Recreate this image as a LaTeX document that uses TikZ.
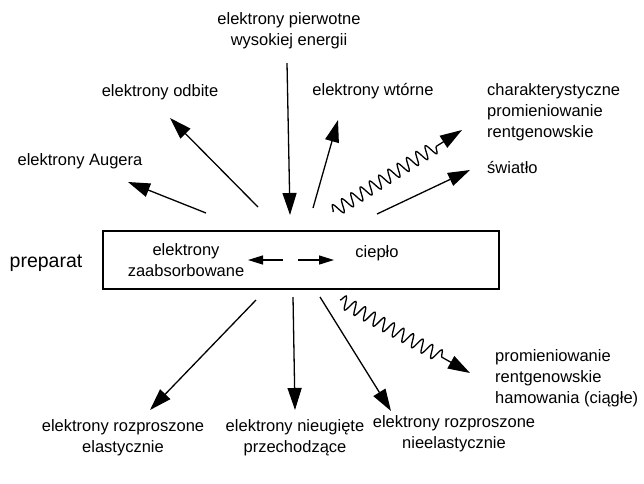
\documentclass[tikz,border=0pt]{standalone}
\usepackage{fontspec}
\setmainfont{Liberation Sans}
\usetikzlibrary{arrows.meta, positioning, decorations.pathmorphing}
\tikzset{
  lbl/.style={font=\fontsize{16.5}{21}\selectfont, align=center, inner sep=0pt},
  lblw/.style={lbl, align=left, anchor=west},
  ray/.style={-{Triangle[length=22pt, width=14pt]}, line width=1.3pt},
  photon/.style={ray, decorate,
                 decoration={snake, segment length=11pt, amplitude=6.5pt, post length=30pt}},
  heatarrow/.style={-{Triangle[length=15pt, width=9pt]}, line width=1.3pt},
}

\begin{document}
\begin{tikzpicture}[x=1pt, y=-1pt]
  \useasboundingbox (0,0) rectangle (644,483);

  % sample
  \node[draw, line width=1.3pt, minimum width=396pt, minimum height=58pt,
        inner sep=0pt] (sample) at (301,260) {};
  \node[lbl, font=\fontsize{19.5}{23}\selectfont] (preparat) at (46,263) {preparat};
  \node[lbl] (absorbed) at (186,260) {elektrony\\zaabsorbowane};
  \node[lbl] (heat) at (377,253) {ciepło};

  % labels
  \node[lbl] (primary) at (289,31) {elektrony pierwotne\\wysokiej energii};
  \node[lbl] (backsc) at (160,92) {elektrony odbite};
  \node[lbl] (second) at (373,91) {elektrony wtórne};
  \node[lbl] (auger) at (80,161) {elektrony Augera};
  \node[lblw] (charx) at (487,112) {charakterystyczne\\promieniowanie\\rentgenowskie};
  \node[lblw] (light) at (487,167) {światło};
  \node[lblw] (brems) at (495,378) {promieniowanie\\rentgenowskie\\hamowania (ciągłe)};
  \node[lbl] (elastic) at (123,438) {elektrony rozproszone\\elastycznie};
  \node[lbl] (trans) at (295,438) {elektrony nieugięte\\przechodzące};
  \node[lbl] (inelastic) at (454,434) {elektrony rozproszone\\nieelastycznie};

  % arrow ends
  \coordinate (beamin) at (287,63);
  \coordinate (beamhit) at (290,215);
  \coordinate (bsfrom) at (258,207);
  \coordinate (bsto) at (170,118);
  \coordinate (augfrom) at (206,213);
  \coordinate (augto) at (128,182);
  \coordinate (sefrom) at (313,208);
  \coordinate (seto) at (338,120);
  \coordinate (cxfrom) at (333,212);
  \coordinate (cxto) at (462,130);
  \coordinate (lifrom) at (377,214);
  \coordinate (lito) at (470,170);
  \coordinate (elfrom) at (256,300);
  \coordinate (elto) at (150,410);
  \coordinate (trfrom) at (293,297);
  \coordinate (trto) at (295,410);
  \coordinate (infrom) at (320,297);
  \coordinate (into) at (391,411);
  \coordinate (brfrom) at (340,300);
  \coordinate (brto) at (470,373);
  \coordinate (habs) at (248,260);
  \coordinate (hmidl) at (283,260);
  \coordinate (hmidr) at (298,260);
  \coordinate (hheat) at (334,260);

  \draw[ray] (beamin) -- (beamhit);
  \draw[ray] (bsfrom) -- (bsto);
  \draw[ray] (augfrom) -- (augto);
  \draw[ray] (sefrom) -- (seto);
  \draw[photon] (cxfrom) -- (cxto);
  \draw[ray] (lifrom) -- (lito);
  \draw[ray] (elfrom) -- (elto);
  \draw[ray] (trfrom) -- (trto);
  \draw[ray] (infrom) -- (into);
  \draw[photon] (brfrom) -- (brto);
  \draw[heatarrow] (hmidl) -- (habs);
  \draw[heatarrow] (hmidr) -- (hheat);
\end{tikzpicture}
\end{document}
